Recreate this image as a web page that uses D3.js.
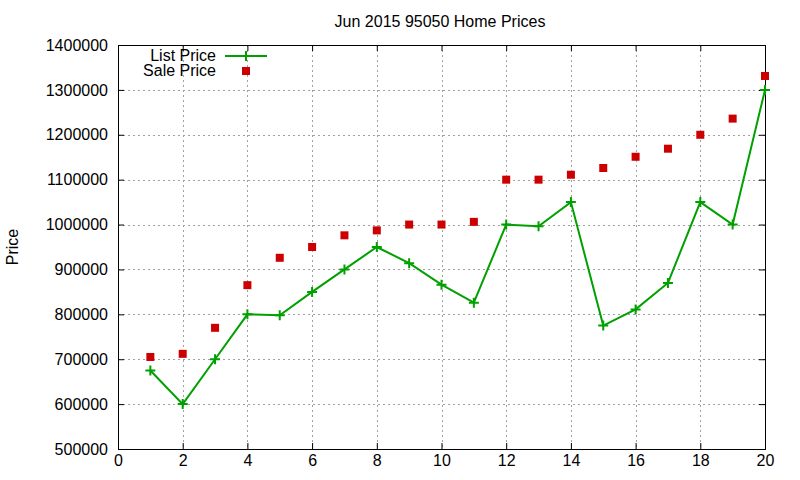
<!DOCTYPE html>
<html>
<head>
<meta charset="utf-8">
<script src="https://cdn.jsdelivr.net/npm/d3@7"></script>
<style>
  body { margin: 0; background: #fff; }
  svg { font-family: "Liberation Sans", Arial, sans-serif; }
</style>
</head>
<body>
<svg id="chart" width="800" height="480"></svg>
<script>
// data
var months = [1, 2, 3, 4, 5, 6, 7, 8, 9, 10, 11, 12, 13, 14, 15, 16, 17, 18, 19, 20];
var listPrice = [675000, 600000, 700000, 800000, 798000, 850000, 900000, 950000, 914000, 866000,
                 826000, 1000000, 996000, 1050000, 775000, 811000, 870000, 1050000, 1000000, 1300000];
var salePrice = [705000, 712000, 770000, 865000, 926000, 950000, 976000, 987000, 1000000, 1000000,
                 1006000, 1100000, 1100000, 1111000, 1126000, 1151000, 1169000, 1200000, 1236000, 1331000];
var xTicks = [0, 2, 4, 6, 8, 10, 12, 14, 16, 18, 20];
var yTicks = [500000, 600000, 700000, 800000, 900000, 1000000, 1100000, 1200000, 1300000, 1400000];

var svg = d3.select("#chart");
var plotLeft = 118, plotRight = 765, plotTop = 45, plotBottom = 449;
var tickLen = 6;

var x = d3.scaleLinear().domain([0, 20]).range([plotLeft, plotRight]);
var y = d3.scaleLinear().domain([500000, 1400000]).range([plotBottom, plotTop]);

//grid lines
var grid = svg.append("g").attr("stroke", "#a0a0a0").attr("stroke-dasharray", "2,3").attr("stroke-width", 1);
xTicks.slice(1, -1).forEach(function (t) {
    grid.append("line").attr("x1", Math.round(x(t)) + 0.5).attr("x2", Math.round(x(t)) + 0.5)
        .attr("y1", plotTop).attr("y2", plotBottom);
});
yTicks.slice(1, -1).forEach(function (t) {
    grid.append("line").attr("x1", plotLeft).attr("x2", plotRight)
        .attr("y1", Math.round(y(t)) + 0.5).attr("y2", Math.round(y(t)) + 0.5);
});

//axes (ticks inward, mirrored)
var yAxis = d3.axisLeft(y).tickValues(yTicks).tickSize(-tickLen).tickPadding(10).tickFormat(d3.format("d"));
var xAxis = d3.axisBottom(x).tickValues(xTicks).tickSize(-tickLen).tickPadding(6).tickFormat(d3.format("d"));

function styleAxis(g) {
    g.select(".domain").remove();
    g.selectAll("text").attr("fill", "#000").style("font-size", "16px");
    g.selectAll("line").attr("stroke", "#000");
}
svg.append("g").attr("transform", "translate(" + plotLeft + ",0)").call(yAxis).call(styleAxis);
svg.append("g").attr("transform", "translate(0," + plotBottom + ")").call(xAxis).call(styleAxis);
svg.append("g").attr("transform", "translate(" + plotRight + ",0)")
    .call(d3.axisRight(y).tickValues(yTicks).tickSize(-tickLen).tickFormat(""))
    .call(styleAxis);
svg.append("g").attr("transform", "translate(0," + plotTop + ")")
    .call(d3.axisTop(x).tickValues(xTicks).tickSize(-tickLen).tickFormat(""))
    .call(styleAxis);

//border
svg.append("rect").attr("x", plotLeft + 0.5).attr("y", plotTop + 0.5)
    .attr("width", plotRight - plotLeft).attr("height", plotBottom - plotTop)
    .attr("fill", "none").attr("stroke", "#000").attr("stroke-width", 1);

//title and axis label
svg.append("text").attr("x", 440).attr("y", 27).attr("text-anchor", "middle")
    .style("font-size", "16px").text("Jun 2015 95050 Home Prices");
svg.append("text").attr("transform", "translate(18,247) rotate(-90)").attr("text-anchor", "middle")
    .style("font-size", "16px").text("Price");

var green = "#00a000", red = "#cc0000";

//list price line
var line = d3.line().x(function (d, i) { return x(months[i]); }).y(function (d) { return y(d); });
svg.append("path").datum(listPrice).attr("d", line)
    .attr("fill", "none").attr("stroke", green).attr("stroke-width", 2);

function plus(g, cx, cy) {
    g.append("path").attr("d", "M" + (cx - 5) + "," + cy + "H" + (cx + 5) + "M" + cx + "," + (cy - 5) + "V" + (cy + 5))
        .attr("stroke", green).attr("stroke-width", 2);
}
var marks = svg.append("g");
listPrice.forEach(function (d, i) { plus(marks, x(months[i]), y(d)); });

//sale price squares
svg.append("g").selectAll("rect").data(salePrice).enter().append("rect")
    .attr("x", function (d, i) { return x(months[i]) - 4; })
    .attr("y", function (d) { return y(d) - 4; })
    .attr("width", 8).attr("height", 8).attr("fill", red);

//legend
var legend = svg.append("g").style("font-size", "16px");
legend.append("text").attr("x", 216).attr("y", 61).attr("text-anchor", "end").text("List Price");
legend.append("line").attr("x1", 225).attr("x2", 267).attr("y1", 56).attr("y2", 56)
    .attr("stroke", green).attr("stroke-width", 2);
plus(legend, 246, 56);
legend.append("text").attr("x", 216).attr("y", 76).attr("text-anchor", "end").text("Sale Price");
legend.append("rect").attr("x", 242).attr("y", 67).attr("width", 8).attr("height", 8).attr("fill", red);
</script>
</body>
</html>
